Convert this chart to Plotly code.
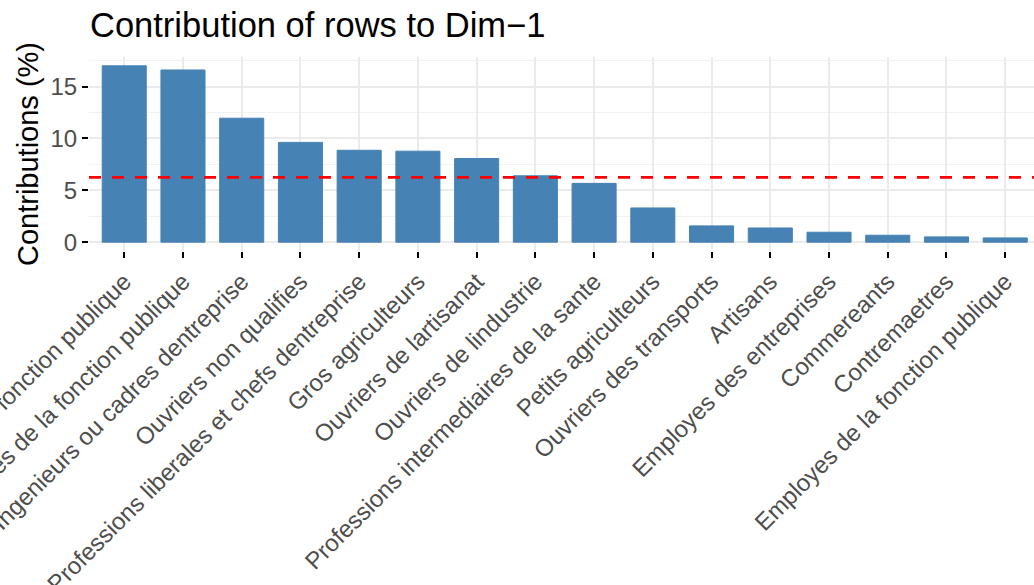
import plotly.graph_objects as go

categories = [
    "Cadres de la fonction publique",
    "Professions intermediaires de la fonction publique",
    "Ingenieurs ou cadres dentreprise",
    "Ouvriers non qualifies",
    "Professions liberales et chefs dentreprise",
    "Gros agriculteurs",
    "Ouvriers de lartisanat",
    "Ouvriers de lindustrie",
    "Professions intermediaires de la sante",
    "Petits agriculteurs",
    "Ouvriers des transports",
    "Artisans",
    "Employes des entreprises",
    "Commereants",
    "Contremaetres",
    "Employes de la fonction publique",
]
contributions = [17.0, 16.6, 11.95, 9.62, 8.86, 8.77, 8.06, 6.40, 5.67, 3.30,
                 1.57, 1.37, 0.96, 0.67, 0.51, 0.41]
reference_line = 100 / len(categories)
y_ticks = [0, 5, 10, 15]

FONT = "Liberation Sans, Arial, Helvetica, sans-serif"

fig = go.Figure()
fig.add_trace(go.Bar(
    x=categories,
    y=contributions,
    width=0.75,
    marker=dict(color="#4682B4", line=dict(color="#4682B4", width=1)),
    showlegend=False,
))

fig.add_shape(type="line", xref="paper", yref="y", x0=0, x1=1,
              y0=reference_line, y1=reference_line,
              line=dict(color="red", width=2.7, dash="12px,11px"))

fig.add_annotation(text="Contributions (%)", textangle=-90,
                   xref="paper", yref="paper", x=0, y=0.5,
                   xanchor="center", yanchor="middle", xshift=-61,
                   showarrow=False,
                   font=dict(size=29, color="black", family=FONT))

fig.update_layout(
    width=1034, height=585, autosize=False,
    margin=dict(l=89, r=0, t=57, b=334, pad=0),
    paper_bgcolor="white", plot_bgcolor="white",
    font=dict(family=FONT, color="black"),
    title=dict(text="Contribution of rows to Dim\u22121",
               font=dict(size=34.5, color="black", family=FONT),
               x=90 / 1034, xanchor="left", xref="container",
               y=1 - 25 / 585, yanchor="middle", yref="container"),
    bargap=0.25,
)

fig.update_xaxes(
    type="category",
    range=[-0.6, 15.49],
    tickangle=-45,
    tickfont=dict(size=24, color="#4D4D4D", family=FONT),
    ticks="outside", ticklen=6, tickwidth=2, tickcolor="black",
    showgrid=True, gridcolor="#EBEBEB", gridwidth=2,
    showline=False, zeroline=False,
    automargin=False,
)

fig.update_yaxes(
    range=[-0.85, 17.85],
    tickvals=y_ticks,
    ticktext=[str(v) for v in y_ticks],
    tickfont=dict(size=24, color="#4D4D4D", family=FONT),
    ticks="outside", ticklen=6, tickwidth=2, tickcolor="black",
    showgrid=True, gridcolor="#EBEBEB", gridwidth=2,
    minor=dict(dtick=2.5, tick0=0, showgrid=True, gridcolor="#F2F2F2", gridwidth=1.2),
    zeroline=False, showline=False,
    automargin=False,
)

fig.write_html("out.html", config={"displayModeBar": False},
               post_script="document.body.style.margin='0';")
